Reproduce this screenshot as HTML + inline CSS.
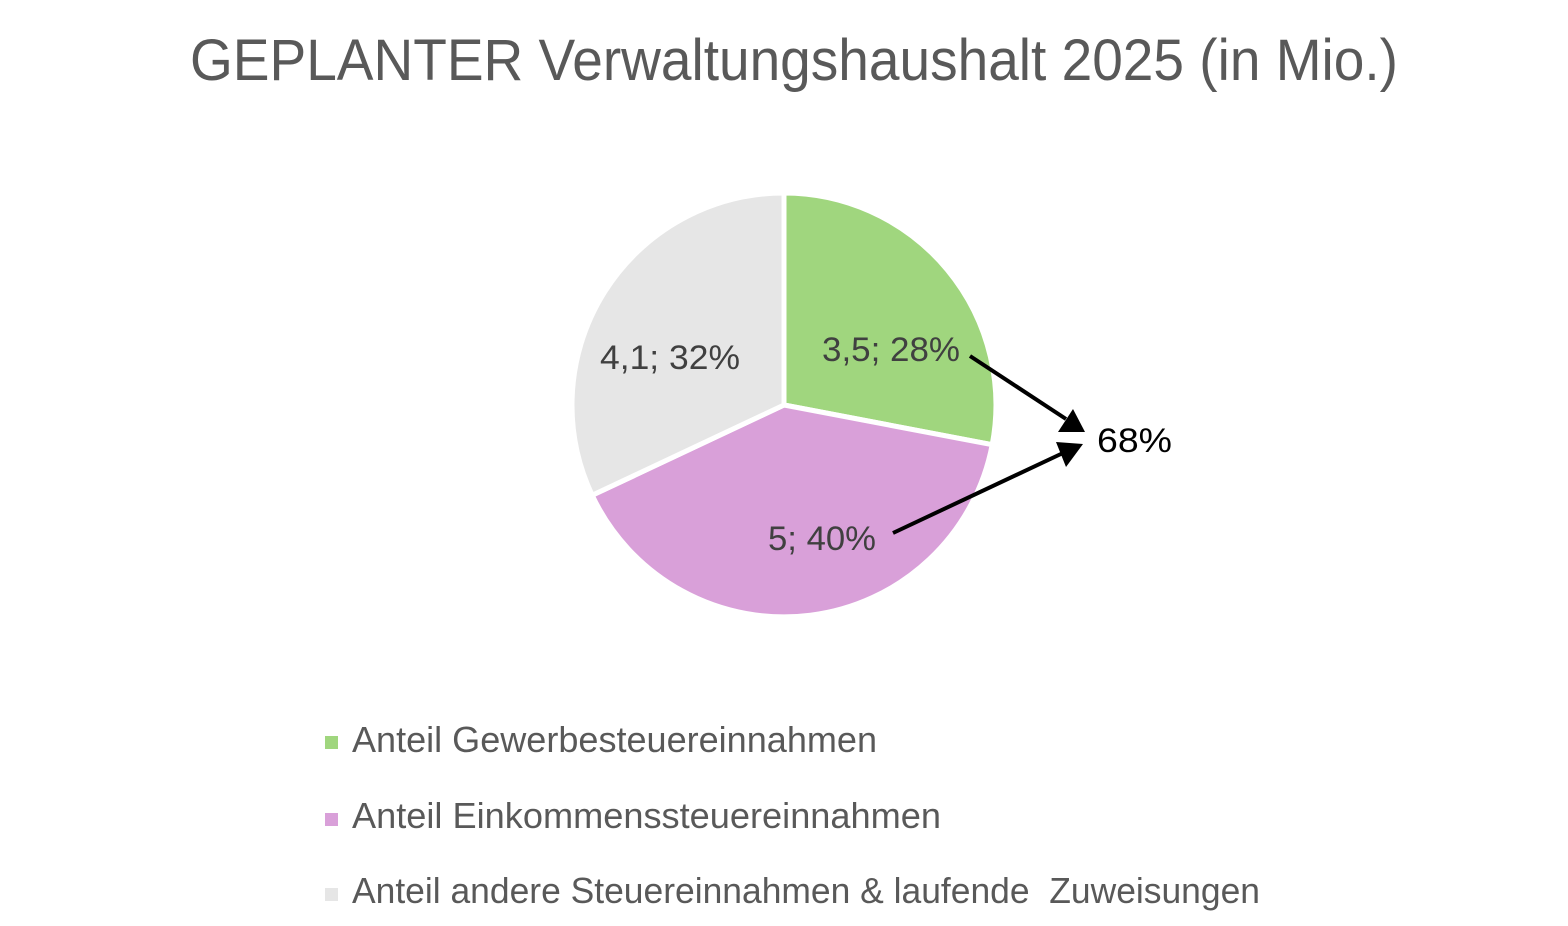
<!DOCTYPE html>
<html><head><meta charset="utf-8"><style>html,body{margin:0;padding:0;background:#fff}svg{display:block}</style></head>
<body>
<svg width="1568" height="926" viewBox="0 0 1568 926" xmlns="http://www.w3.org/2000/svg" font-family="Liberation Sans, sans-serif">
<text x="190" y="80" font-size="58" fill="#595959" textLength="1208" lengthAdjust="spacingAndGlyphs">GEPLANTER Verwaltungshaushalt 2025 (in Mio.)</text>
<g stroke="#fff" stroke-width="5" stroke-linejoin="round">
<path d="M784,405 L784,193 A212,212 0 0 1 992.2,444.7 Z" fill="#a0d67e"/>
<path d="M784,405 L992.2,444.7 A212,212 0 0 1 592.2,495.3 Z" fill="#d9a0d9"/>
<path d="M784,405 L592.2,495.3 A212,212 0 0 1 784,193 Z" fill="#e6e6e6"/>
</g>
<g font-size="34" fill="#404040">
<text x="822" y="361" textLength="138" lengthAdjust="spacingAndGlyphs">3,5; 28%</text>
<text x="600" y="369" textLength="140" lengthAdjust="spacingAndGlyphs">4,1; 32%</text>
<text x="768" y="550" textLength="108" lengthAdjust="spacingAndGlyphs">5; 40%</text>
</g>
<g stroke="#000" stroke-width="4">
<line x1="970" y1="356" x2="1066" y2="419"/>
<line x1="893" y1="533" x2="1063" y2="453"/>
</g>
<polygon points="1085,432 1058,432 1073,409" fill="#000"/>
<polygon points="1083,444 1066,467 1056,442" fill="#000"/>
<text x="1097" y="452" font-size="34" fill="#000" textLength="75" lengthAdjust="spacingAndGlyphs">68%</text>
<g font-size="36" fill="#595959">
<rect x="325" y="736" width="13" height="13" fill="#a0d67e"/>
<text x="352" y="752" textLength="525" lengthAdjust="spacingAndGlyphs">Anteil Gewerbesteuereinnahmen</text>
<rect x="325" y="813" width="13" height="13" fill="#d9a0d9"/>
<text x="352" y="828" textLength="589" lengthAdjust="spacingAndGlyphs">Anteil Einkommenssteuereinnahmen</text>
<rect x="325" y="888" width="13" height="13" fill="#e6e6e6"/>
<text x="352" y="903" textLength="908" lengthAdjust="spacingAndGlyphs" xml:space="preserve">Anteil andere Steuereinnahmen &amp; laufende  Zuweisungen</text>
</g>
</svg>
</body></html>
